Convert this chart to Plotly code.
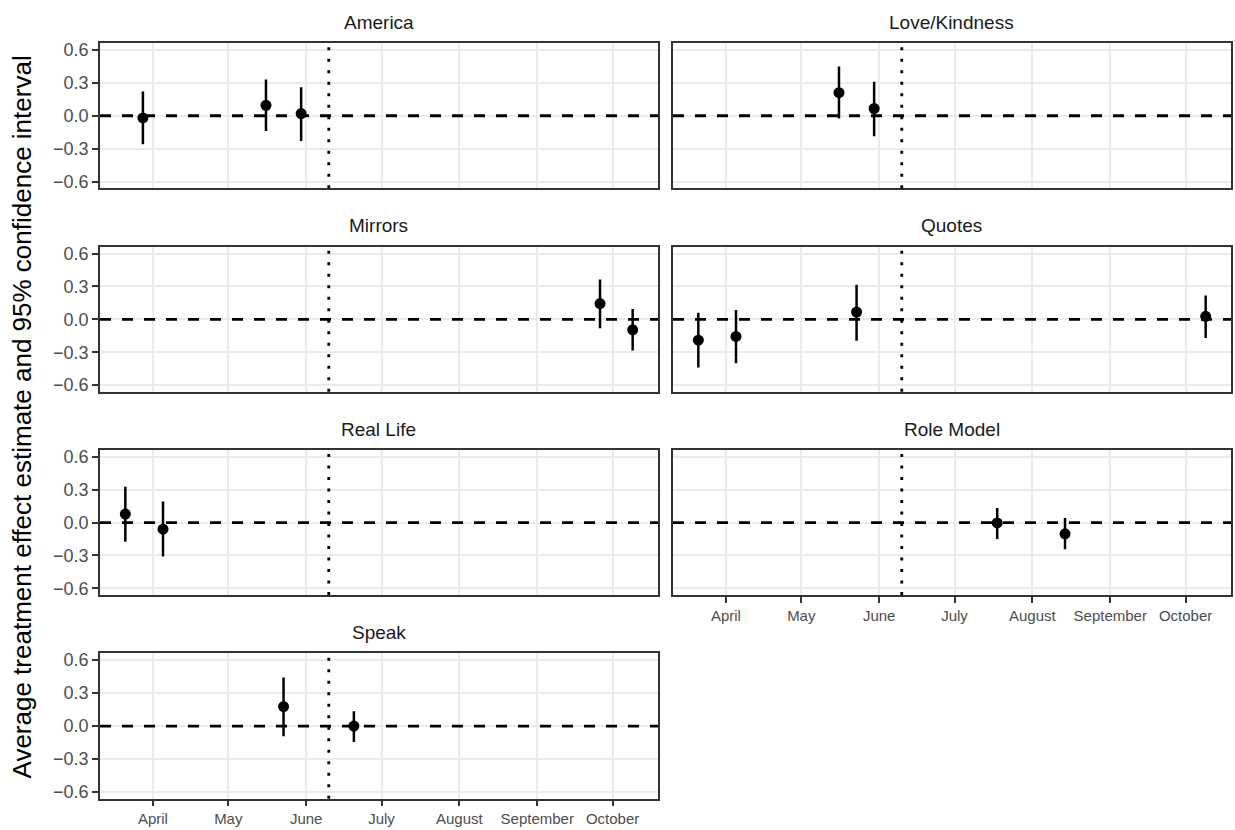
import plotly.graph_objects as go

# ---- data ----
panels = ["America", "Love/Kindness", "Mirrors", "Quotes", "Real Life", "Role Model", "Speak"]

row_panel = ["America", "America", "America",
             "Love/Kindness", "Love/Kindness",
             "Mirrors", "Mirrors",
             "Quotes", "Quotes", "Quotes", "Quotes",
             "Real Life", "Real Life",
             "Role Model", "Role Model",
             "Speak", "Speak"]
row_date = ["2018-03-28", "2018-05-16", "2018-05-30",
            "2018-05-16", "2018-05-30",
            "2018-09-26", "2018-10-09",
            "2018-03-21", "2018-04-05", "2018-05-23", "2018-10-09",
            "2018-03-21", "2018-04-05",
            "2018-07-18", "2018-08-14",
            "2018-05-23", "2018-06-20"]
estimate = [-0.02, 0.095, 0.02,
            0.21, 0.066,
            0.144, -0.096,
            -0.19, -0.156, 0.066, 0.027,
            0.078, -0.06,
            -0.003, -0.102,
            0.177, 0.0]
ci_low = [-0.26, -0.14, -0.23,
          -0.024, -0.186,
          -0.081, -0.285,
          -0.44, -0.40, -0.195, -0.171,
          -0.174, -0.309,
          -0.15, -0.243,
          -0.093, -0.144]
ci_high = [0.22, 0.33, 0.26,
           0.45, 0.31,
           0.363, 0.093,
           0.06, 0.084, 0.315, 0.216,
           0.327, 0.192,
           0.132, 0.042,
           0.441, 0.135]

cutoff_date = "2018-06-10"
x_tick_vals = ["2018-04-01", "2018-05-01", "2018-06-01", "2018-07-01",
               "2018-08-01", "2018-09-01", "2018-10-01"]
x_tick_text = ["April", "May", "June", "July", "August", "September", "October"]
y_tick_vals = [-0.6, -0.3, 0.0, 0.3, 0.6]
y_tick_text = ["\u22120.6", "\u22120.3", "0.0", "0.3", "0.6"]
y_title = "Average treatment effect estimate and 95% confidence interval"

# ---- layout geometry ----
W, H = 1235, 830
col_px = [(100, 658), (673, 1231)]
row_px = [(40.7, 186.7), (246, 392), (451, 597), (656, 802.5)]
x_range = ["2018-03-10 22:00", "2018-10-19 02:00"]
y_range = [-0.66, 0.66]
FONT = "Liberation Sans, Arial, Helvetica, sans-serif"
GRID = "#EBEBEB"
BORDER = "#333333"

fig = go.Figure()
layout = dict(
    width=W, height=H,
    margin=dict(l=0, r=0, t=0, b=0),
    paper_bgcolor="white", plot_bgcolor="white",
    showlegend=False,
    font=dict(family=FONT, color="#1A1A1A"),
)
shapes = []
annotations = []

n_panels = len(panels)
for i, name in enumerate(panels):
    n = i + 1
    sfx = "" if n == 1 else str(n)
    xid, yid = "x" + sfx, "y" + sfx
    r, c = divmod(i, 2)
    x0p, x1p = col_px[c]
    y0p, y1p = row_px[r]
    is_bottom = (i + 2) >= n_panels
    is_left = c == 0
    xd = [x0p / W, x1p / W]
    yd = [1 - y1p / H, 1 - y0p / H]

    layout["xaxis" + sfx] = dict(
        domain=xd, anchor=yid, type="date", range=x_range,
        tickvals=x_tick_vals, ticktext=x_tick_text,
        showticklabels=is_bottom, ticks="outside" if is_bottom else "",
        ticklen=6, tickwidth=1.5, tickcolor=BORDER,
        tickfont=dict(size=15, color="#4D4D4D", family=FONT),
        showgrid=True, gridcolor=GRID, gridwidth=1.5,
        zeroline=False, showline=True, linecolor=BORDER, linewidth=1.5,
        mirror=True, fixedrange=True,
    )
    layout["yaxis" + sfx] = dict(
        domain=yd, anchor=xid, range=y_range,
        tickvals=y_tick_vals, ticktext=y_tick_text,
        showticklabels=is_left, ticks="outside" if is_left else "",
        ticklen=6, tickwidth=1.5, tickcolor=BORDER,
        tickfont=dict(size=18, color="#4D4D4D", family=FONT),
        showgrid=True, gridcolor=GRID, gridwidth=1.5,
        zeroline=False, showline=True, linecolor=BORDER, linewidth=1.5,
        mirror=True, fixedrange=True,
    )

    idx = [k for k, p in enumerate(row_panel) if p == name]
    xs = [row_date[k] for k in idx]
    ys = [estimate[k] for k in idx]
    up = [ci_high[k] - estimate[k] for k in idx]
    dn = [estimate[k] - ci_low[k] for k in idx]
    fig.add_trace(go.Scatter(
        x=xs, y=ys, mode="markers", xaxis=xid, yaxis=yid,
        marker=dict(size=11, color="black"),
        error_y=dict(type="data", symmetric=False, array=up, arrayminus=dn,
                     width=0, thickness=2.5, color="black"),
        hoverinfo="skip", cliponaxis=False,
    ))

    shapes.append(dict(type="line", layer="above",
                       xref=xid + " domain", x0=0, x1=1,
                       yref=yid, y0=0, y1=0,
                       line=dict(color="black", width=2.8, dash="11px,11px")))
    shapes.append(dict(type="line", layer="above",
                       xref=xid, x0=cutoff_date, x1=cutoff_date,
                       yref=yid + " domain", y0=0, y1=1,
                       line=dict(color="black", width=2.8, dash="3px,8.5px")))

    annotations.append(dict(
        text=name, showarrow=False, xref="paper", yref="paper",
        x=(xd[0] + xd[1]) / 2, y=yd[1], xanchor="center", yanchor="middle",
        yshift=21, font=dict(size=19, color="#1A1A1A", family=FONT),
    ))

annotations.append(dict(
    text=y_title, showarrow=False, xref="paper", yref="paper",
    x=22 / W, y=1 - 418 / H, xanchor="center", yanchor="middle",
    textangle=-90, font=dict(size=26, color="black", family=FONT),
))

layout["shapes"] = shapes
layout["annotations"] = annotations
fig.update_layout(**layout)

fig.write_html("out.html", config={"displayModeBar": False},
               post_script="document.body.style.margin='0';document.body.style.overflow='hidden';")
